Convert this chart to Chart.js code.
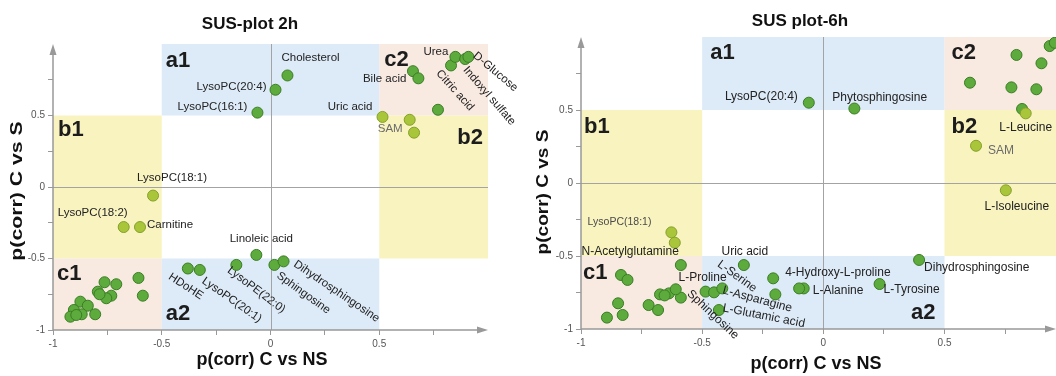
<!DOCTYPE html>
<html>
<head>
<meta charset="utf-8">
<script src="https://cdn.jsdelivr.net/npm/chart.js@4.4.0/dist/chart.umd.min.js"></script>
<style>
	body { margin: 0; background: #fff; }
	#wrap { position: relative; width: 1056px; height: 376px; overflow: hidden; }
	#chart2h { position: absolute; left: 0; top: 0; }
	#chart6h { position: absolute; left: 530px; top: 0; }
</style>
</head>
<body>
<div id="wrap">
	<canvas id="chart2h" width="530" height="376"></canvas>
	<canvas id="chart6h" width="526" height="376"></canvas>
</div>
<script>
(function () {

	'use strict';

	// ---- data: SUS-plot 2h ----
	var names2h = ['Cholesterol', 'LysoPC(20:4)', 'LysoPC(16:1)', 'Uric acid', 'SAM', '', '', 'Bile acid', '', 'Citric acid',
		'Urea', 'Indoxyl sulfate', 'D-Glucose', 'LysoPC(18:1)', 'LysoPC(18:2)', 'Carnitine', 'Linoleic acid', 'LysoPE(22:0)',
		'HDoHE', 'LysoPC(20:1)', 'Sphingosine', 'Dihydrosphingosine',
		'', '', '', '', '', '', '', '', '', '', '', '', '', '', ''];
	var x2h = [0.078, 0.023, -0.06, 0.515, 0.64, 0.66, 0.655, 0.68, 0.77, 0.83,
		0.85, 0.895, 0.91, -0.54, -0.675, -0.60, -0.065, -0.157,
		-0.38, -0.325, 0.018, 0.06,
		-0.607, -0.587, -0.763, -0.709, -0.794, -0.732, -0.755, -0.786, -0.874, -0.840, -0.806, -0.904, -0.868, -0.920, -0.893];
	var y2h = [0.78, 0.68, 0.52, 0.49, 0.47, 0.38, 0.81, 0.76, 0.54, 0.85,
		0.91, 0.895, 0.91, -0.06, -0.28, -0.28, -0.475, -0.545,
		-0.57, -0.58, -0.545, -0.52,
		-0.636, -0.760, -0.666, -0.680, -0.732, -0.760, -0.778, -0.750, -0.802, -0.830, -0.890, -0.860, -0.890, -0.907, -0.895];
	// 1 = shared-and-unique (b) metabolite
	var kind2h = [0, 0, 0, 1, 1, 1, 0, 0, 0, 0,
		0, 0, 0, 1, 1, 1, 0, 0,
		0, 0, 0, 0,
		0, 0, 0, 0, 0, 0, 0, 0, 0, 0, 0, 0, 0, 0, 0];

	// ---- data: SUS plot-6h ----
	var names6h = ['LysoPC(20:4)', 'Phytosphingosine', '', 'L-Leucine', 'SAM', 'L-Isoleucine',
		'', '', '', '', '', '', '',
		'LysoPC(18:1)', '', 'N-Acetylglutamine', 'Uric acid', 'L-Proline', 'L-Serine', 'L-Asparagine', 'L-Glutamic acid',
		'Sphingosine', '4-Hydroxy-L-proline', '', 'L-Alanine', '', 'L-Tyrosine', 'Dihydrosphingosine',
		'', '', '', '', '', '', '', '', '', '', ''];
	var x6h = [-0.06, 0.128, 0.82, 0.835, 0.63, 0.753,
		0.797, 0.90, 0.934, 0.955, 0.605, 0.776, 0.879,
		-0.627, -0.613, -0.588, -0.328, -0.486, -0.451, -0.417, -0.431,
		-0.588, -0.207, -0.198, -0.081, -0.10, 0.232, 0.395,
		-0.835, -0.808, -0.847, -0.828, -0.893, -0.721, -0.682, -0.674, -0.637, -0.609, -0.655];
	var y6h = [0.55, 0.51, 0.507, 0.477, 0.255, -0.05,
		0.877, 0.82, 0.938, 0.96, 0.687, 0.655, 0.642,
		-0.338, -0.409, -0.562, -0.562, -0.744, -0.749, -0.722, -0.870,
		-0.785, -0.653, -0.763, -0.722, -0.722, -0.692, -0.527,
		-0.630, -0.664, -0.824, -0.904, -0.922, -0.836, -0.870, -0.763, -0.756, -0.728, -0.770];
	var kind6h = [0, 0, 0, 1, 1, 1,
		0, 0, 0, 0, 0, 0, 0,
		1, 1, 0, 0, 0, 0, 0, 0,
		0, 0, 0, 0, 0, 0, 0,
		0, 0, 0, 0, 0, 0, 0, 0, 0, 0, 0];

	// ---- regions and ticks ----
	var regionNames = ['a1', 'c2', 'b1', 'b2', 'c1', 'a2'];
	var regionX0 = [-0.5, 0.5, -1, 0.5, -1, -0.5];
	var regionX1 = [0.5, 1, -0.5, 1, -0.5, 0.5];
	var regionY0 = [0.5, 0.5, -0.5, -0.5, -1, -1];
	var regionY1 = [1, 1, 0.5, 0.5, -0.5, -0.5];
	var tickLabels = [-1, -0.5, 0, 0.5];

	// ---- styling ----
	var regionFill = { a: '#ddeaf7', b: '#f9f3c0', c: '#f8e9e1' };

	// label placement: [dx, dy, rotation deg, align, colour, font]
	var labelLayout2h = {
		'Cholesterol': [-6, -18, 0, 'left'],
		'LysoPC(20:4)': [-9, -3, 0, 'right'],
		'LysoPC(16:1)': [-10, -6, 0, 'right'],
		'Uric acid': [-10, -10, 0, 'right'],
		'SAM': [-7, 9, 0, 'right', '#6a6a6a'],
		'Bile acid': [-12, 1, 0, 'right'],
		'Citric acid': [4, 25, 48, 'center'],
		'Urea': [-7, -5, 0, 'right'],
		'Indoxyl sulfate': [24, 37, 49, 'center'],
		'D-Glucose': [27, 15, 40, 'center'],
		'LysoPC(18:1)': [19, -18, 0, 'center'],
		'LysoPC(18:2)': [-31, -14, 0, 'center'],
		'Carnitine': [7, -2, 0, 'left'],
		'Linoleic acid': [5, -16, 0, 'center'],
		'LysoPE(22:0)': [20, 25, 37, 'center'],
		'HDoHE': [-2, 18, 33, 'center'],
		'LysoPC(20:1)': [32, 30, 35, 'center'],
		'Sphingosine': [29, 28, 36, 'center'],
		'Dihydrosphingosine': [53, 30, 34, 'center']
	};
	var labelLayout6h = {
		'LysoPC(20:4)': [-11, -6, 0, 'right'],
		'Phytosphingosine': [-22, -11, 0, 'left'],
		'L-Leucine': [0, 14, 0, 'center'],
		'SAM': [12, 5, 0, 'left', '#6a6a6a'],
		'L-Isoleucine': [11, 16, 0, 'center'],
		'LysoPC(18:1)': [-20, -10, 0, 'right', '#4a4a4a', '10.5px Arial, "Liberation Sans", sans-serif'],
		'N-Acetylglutamine': [-2, -13, 0, 'right'],
		'Uric acid': [1, -13, 0, 'center'],
		'L-Proline': [21, -14, 0, 'right'],
		'L-Serine': [23, -16, 36, 'center'],
		'L-Asparagine': [35, 11, 15, 'center'],
		'L-Glutamic acid': [45, 6, 11, 'center'],
		'Sphingosine': [32, 17, 43, 'center'],
		'4-Hydroxy-L-proline': [12, -6, 0, 'left'],
		'L-Alanine': [9, 2, 0, 'left'],
		'L-Tyrosine': [4, 6, 0, 'left'],
		'Dihydrosphingosine': [5, 8, 0, 'left']
	};
	// region letter placement: [corner, dx, dy(baseline), align]
	var letterLayout2h = {
		a1: ['lt', 4, 23, 'left'], c2: ['lt', 5, 22, 'left'], b1: ['lt', 5, 20, 'left'],
		b2: ['rt', -5, 28, 'right'], c1: ['lt', 4, 21, 'left'], a2: ['lb', 4, -10, 'left']
	};
	var letterLayout6h = {
		a1: ['lt', 8, 22, 'left'], c2: ['lt', 7, 22, 'left'], b1: ['lt', 3, 23, 'left'],
		b2: ['lt', 7, 23, 'left'], c1: ['lt', 2, 23, 'left'], a2: ['rb', -9, -10, 'right']
	};

	var susPlugin = {
		id: 'sus',
		beforeDatasetsDraw: function (chart) {
			var ctx = chart.ctx, xs = chart.scales.x, ys = chart.scales.y, a = chart.chartArea;
			ctx.save();
			regionNames.forEach(function (r, i) {
				var l = Math.max(xs.getPixelForValue(regionX0[i]), a.left);
				var rr = Math.min(xs.getPixelForValue(regionX1[i]), a.right);
				var t = Math.max(ys.getPixelForValue(regionY1[i]), a.top);
				var b = Math.min(ys.getPixelForValue(regionY0[i]), a.bottom);
				ctx.fillStyle = regionFill[r.charAt(0)];
				ctx.fillRect(l, t, rr - l, b - t);
			});
			// zero lines
			ctx.strokeStyle = '#a3a3a3';
			ctx.lineWidth = 1;
			var x0 = Math.round(xs.getPixelForValue(0)) + 0.5;
			var y0 = Math.round(ys.getPixelForValue(0)) + 0.5;
			ctx.beginPath();
			ctx.moveTo(x0, a.top); ctx.lineTo(x0, a.bottom);
			ctx.moveTo(a.left, y0); ctx.lineTo(a.right, y0);
			ctx.stroke();
			// axes with arrows
			ctx.strokeStyle = '#999';
			ctx.fillStyle = '#999';
			ctx.lineWidth = 1.5;
			ctx.beginPath();
			ctx.moveTo(a.left, a.top + 4); ctx.lineTo(a.left, a.bottom);
			ctx.lineTo(a.right - 4, a.bottom);
			ctx.stroke();
			ctx.beginPath();
			ctx.moveTo(a.left, a.top); ctx.lineTo(a.left - 3.5, a.top + 11); ctx.lineTo(a.left + 3.5, a.top + 11);
			ctx.closePath(); ctx.fill();
			ctx.beginPath();
			ctx.moveTo(a.right, a.bottom); ctx.lineTo(a.right - 11, a.bottom - 3.5); ctx.lineTo(a.right - 11, a.bottom + 3.5);
			ctx.closePath(); ctx.fill();
			ctx.restore();
		},
		afterDatasetsDraw: function (chart, args, opts) {
			var ctx = chart.ctx, xs = chart.scales.x, ys = chart.scales.y, a = chart.chartArea;
			var meta = chart.getDatasetMeta(0);
			ctx.save();
			// point labels
			ctx.textBaseline = 'middle';
			opts.names.forEach(function (n, i) {
				var L = opts.labelLayout[n];
				if (!n || !L) return;
				var pt = meta.data[i];
				ctx.save();
				ctx.font = L[5] || opts.labelFont;
				ctx.fillStyle = L[4] || '#222';
				ctx.textAlign = L[3];
				ctx.translate(pt.x + L[0], pt.y + L[1]);
				ctx.rotate(L[2] * Math.PI / 180);
				ctx.fillText(n, 0, 0);
				ctx.restore();
			});
			// region letters
			ctx.font = 'bold 22px Arial, "Liberation Sans", sans-serif';
			ctx.fillStyle = '#1c1c1c';
			ctx.textBaseline = 'alphabetic';
			regionNames.forEach(function (r, i) {
				var L = opts.letterLayout[r];
				var l = Math.max(xs.getPixelForValue(regionX0[i]), a.left);
				var rr = Math.min(xs.getPixelForValue(regionX1[i]), a.right);
				var t = Math.max(ys.getPixelForValue(regionY1[i]), a.top);
				var b = Math.min(ys.getPixelForValue(regionY0[i]), a.bottom);
				var px = L[0].charAt(0) === 'l' ? l : rr;
				var py = L[0].charAt(1) === 't' ? t : b;
				ctx.textAlign = L[3];
				ctx.fillText(r, px + L[1], py + L[2]);
			});
			// titles
			ctx.fillStyle = '#111';
			ctx.textAlign = 'center';
			ctx.textBaseline = 'middle';
			ctx.font = 'bold 17px Arial, "Liberation Sans", sans-serif';
			ctx.fillText(opts.title, opts.titleX, opts.titleY);
			ctx.font = 'bold 18px Arial, "Liberation Sans", sans-serif';
			ctx.fillText(opts.xTitle, opts.xTitleX, opts.xTitleY);
			ctx.save();
			ctx.translate(opts.yTitleX, opts.yTitleY);
			ctx.rotate(-Math.PI / 2);
			ctx.scale(opts.yStretch, 1);
			ctx.font = 'bold 17px Arial, "Liberation Sans", sans-serif';
			ctx.fillText(opts.yTitle, 0, 0);
			ctx.restore();
			ctx.restore();
		}
	};

	function axis(min, max, size, horizontal) {
		return {
			type: 'linear',
			min: min,
			max: max,
			border: { display: false },
			grid: { drawOnChartArea: false, drawTicks: true, tickLength: 5, tickColor: '#999', tickWidth: 1 },
			ticks: {
				stepSize: 0.25,
				autoSkip: false,
				maxRotation: 0,
				padding: 3,
				color: '#555',
				font: { family: '"Liberation Sans Narrow", "Arial Narrow", Arial, sans-serif', size: 10 },
				callback: function (v) { return tickLabels.indexOf(v) >= 0 ? String(v) : ''; }
			},
			afterBuildTicks: function (scale) {
				scale.ticks = scale.ticks.filter(function (t) { return t.value <= 0.76; });
			},
			afterFit: function (scale) {
				if (horizontal) scale.height = size; else scale.width = size;
			}
		};
	}

	function makeChart(id, xv, yv, kinds, names, cfg) {
		var pts = xv.map(function (x, i) { return { x: x, y: yv[i] }; });
		return new Chart(document.getElementById(id), {
			type: 'scatter',
			data: {
				datasets: [{
					data: pts,
					pointRadius: 5.5,
					pointBorderWidth: 1,
					backgroundColor: kinds.map(function (k) { return k ? '#a9c63a' : '#5cab3c'; }),
					borderColor: kinds.map(function (k) { return k ? '#86a02a' : '#3b7d25'; })
				}]
			},
			options: {
				responsive: false,
				animation: false,
				devicePixelRatio: 1,
				layout: { padding: cfg.padding, autoPadding: false },
				scales: {
					x: axis(-1, cfg.xMax, cfg.xAxisH, true),
					y: axis(-1, 1, cfg.yAxisW, false)
				},
				plugins: {
					legend: { display: false },
					tooltip: { enabled: false },
					sus: {
						names: names,
						labelLayout: cfg.labelLayout,
						letterLayout: cfg.letterLayout,
						labelFont: cfg.labelFont,
						title: cfg.title, titleX: cfg.titleX, titleY: cfg.titleY,
						xTitle: 'p(corr) C vs NS', xTitleX: cfg.xTitleX, xTitleY: cfg.xTitleY,
						yTitle: 'p(corr) C vs S', yTitleX: cfg.yTitleX, yTitleY: cfg.yTitleY, yStretch: cfg.yStretch
					}
				}
			},
			plugins: [susPlugin]
		});
	}

	makeChart('chart2h', x2h, y2h, kind2h, names2h, {
		padding: { left: 0, right: 42, top: 44, bottom: 0 },
		xMax: 1, xAxisH: 46, yAxisW: 53,
		labelLayout: labelLayout2h, letterLayout: letterLayout2h,
		labelFont: '11.5px Arial, "Liberation Sans", sans-serif',
		title: 'SUS-plot 2h', titleX: 250, titleY: 24,
		xTitleX: 262, xTitleY: 360,
		yTitleX: 17, yTitleY: 191, yStretch: 1.25
	});

	makeChart('chart6h', x6h, y6h, kind6h, names6h, {
		padding: { left: 0, right: 0, top: 37, bottom: 0 },
		xMax: 0.96, xAxisH: 47, yAxisW: 51,
		labelLayout: labelLayout6h, letterLayout: letterLayout6h,
		labelFont: '12px Arial, "Liberation Sans", sans-serif',
		title: 'SUS plot-6h', titleX: 270, titleY: 21,
		xTitleX: 286, xTitleY: 364,
		yTitleX: 13, yTitleY: 192, yStretch: 1.12
	});

})();
</script>
</body>
</html>
